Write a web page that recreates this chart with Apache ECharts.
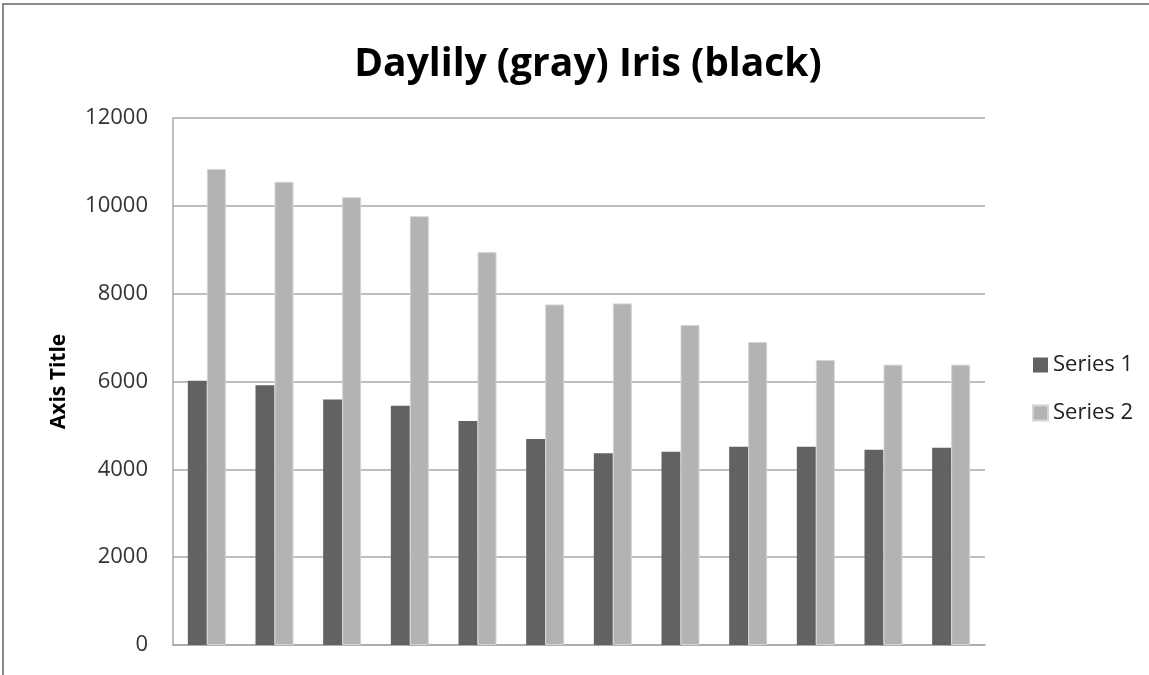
<!DOCTYPE html>
<html>
<head>
<meta charset="utf-8">
<script src="https://cdn.jsdelivr.net/npm/echarts@6/dist/echarts.min.js"></script>
<style>
  html, body { margin: 0; padding: 0; background: #fff; }
  #chart { width: 1149px; height: 675px; }
</style>
</head>
<body>
<div id="chart"></div>
<script>
const categories = ['1', '2', '3', '4', '5', '6', '7', '8', '9', '10', '11', '12'];
const series1 = [6017, 5917, 5591, 5449, 5099, 4690, 4364, 4398, 4515, 4515, 4448, 4490];
const series2 = [10840, 10548, 10197, 9764, 8946, 7753, 7777, 7285, 6901, 6492, 6384, 6384];
const yTicks = { min: 0, max: 12000, interval: 2000 };

const font = '"Open Sans", "DejaVu Sans", sans-serif';
const chart = echarts.init(document.getElementById('chart'));

chart.setOption({
    animation: false,
    backgroundColor: '#fff',
    title: {
        text: 'Daylily (gray) Iris (black)',
        left: 583,
        top: 40,
        textAlign: 'center',
        textStyle: { fontFamily: font, fontSize: 39, fontWeight: 'bold', color: '#000' }
    },
    graphic: [{
        type: 'rect',
        shape: { x: 3, y: 4, width: 1300, height: 1000 },
        style: { fill: 'none', stroke: '#8a8a8a', lineWidth: 2 },
        silent: true
    }],
    legend: {
        orient: 'vertical',
        left: 1027,
        top: 349,
        itemWidth: 15,
        itemHeight: 15,
        itemGap: 26,
        icon: 'rect',
        textStyle: { fontFamily: font, fontSize: 22, lineHeight: 22, color: '#222', padding: [0, 0, 0, 0] },
        data: ['Series 1', 'Series 2']
    },
    grid: { left: 173, right: 164, top: 118, bottom: 30, containLabel: false },
    xAxis: {
        type: 'category',
        data: categories,
        axisLabel: { show: false },
        axisTick: { show: false },
        axisLine: { lineStyle: { color: '#a8a8a8', width: 1.5 } }
    },
    yAxis: {
        type: 'value',
        min: yTicks.min,
        max: yTicks.max,
        interval: yTicks.interval,
        name: 'Axis Title',
        nameLocation: 'middle',
        nameGap: 103,
        nameRotate: 90,
        nameTextStyle: { fontFamily: font, fontSize: 21, fontWeight: 'bold', color: '#000' },
        axisLine: { show: true, lineStyle: { color: '#a8a8a8', width: 1.5 } },
        axisTick: { show: false },
        axisLabel: { fontFamily: font, fontSize: 22, color: '#333', margin: 25, formatter: v => String(v) },
        splitLine: { lineStyle: { color: '#a8a8a8', width: 1.5 } }
    },
    series: [
        {
            name: 'Series 1',
            type: 'bar',
            data: series1,
            barWidth: 19,
            barGap: '0%',
            itemStyle: { color: '#626262' }
        },
        {
            name: 'Series 2',
            type: 'bar',
            data: series2,
            barWidth: 19,
            barGap: '0%',
            itemStyle: { color: '#b3b3b3', borderColor: '#d4d4d4', borderWidth: 1 }
        }
    ]
});
</script>
</body>
</html>
